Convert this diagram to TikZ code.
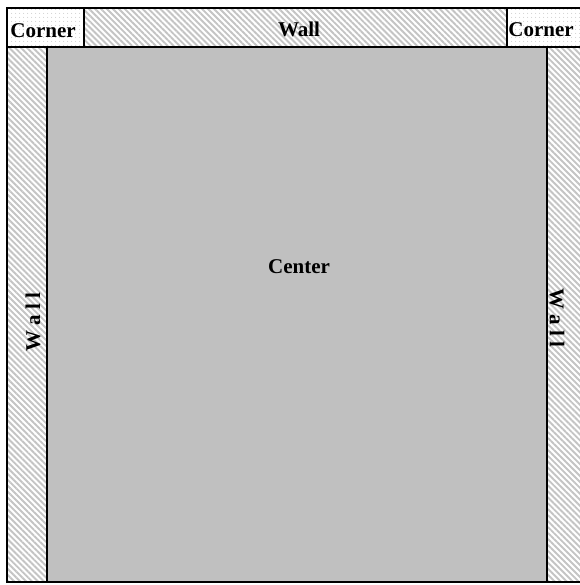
\documentclass[tikz,border=0pt]{standalone}
\usepackage{fontspec}
\setmainfont{Liberation Serif}
\usetikzlibrary{patterns,patterns.meta}
\definecolor{centergray}{HTML}{C0C0C0}
\definecolor{hatchgray}{HTML}{C4C4C4}
\definecolor{dotgray}{HTML}{B8B8B8}
\begin{document}
\begin{tikzpicture}[x=1pt,y=-1pt,
  region/.style={draw=black,line width=1.6pt},
  cornerbox/.style={region,preaction={fill=white},pattern={Dots[distance=4pt,radius=0.5pt]},pattern color=dotgray},
  wallbox/.style={region,preaction={fill=white},pattern={Lines[angle=-45,distance=4.2pt,line width=1.9pt]},pattern color=hatchgray},
  centerbox/.style={region,fill=centergray},
  lbl/.style={font=\fontsize{21}{25}\selectfont\bfseries,inner sep=0pt}]
\useasboundingbox (0,0) rectangle (579,585);
\fill[white] (0,0) rectangle (579,585);
\draw[centerbox] (47,47) rectangle (547,582);
\draw[wallbox] (7,47) rectangle (47,582);
\draw[wallbox] (547,47) rectangle (583,582);
\draw[wallbox] (84,8) rectangle (507,47);
\draw[cornerbox] (7,8) rectangle (84,47);
\draw[cornerbox] (507,8) rectangle (583,47);
\node[lbl] (cornerL) at (43,31) {Corner};
\node[lbl] (cornerR) at (541,30) {Corner};
\node[lbl] (wallT) at (299,29.5) {Wall};
\node[lbl] (center) at (299,267) {Center};
\node[lbl,rotate=90] (wallL) at (33,322) {W a l l};
\node[lbl,rotate=-90] (wallR) at (557,318) {W a l l};
\end{tikzpicture}
\end{document}
